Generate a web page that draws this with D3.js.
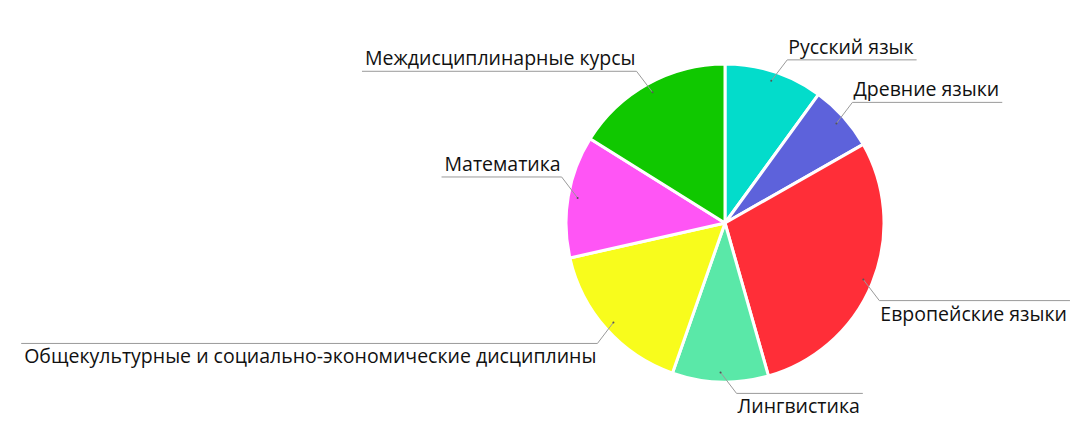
<!DOCTYPE html>
<html><head><meta charset="utf-8">
<script src="https://cdn.jsdelivr.net/npm/d3@7"></script>
<style>html,body{margin:0;padding:0;background:#fff;}svg{display:block;}</style>
</head><body>
<svg id="chart" width="1080" height="446"></svg>
<script>
const categories = ["Русский язык","Древние языки","Европейские языки","Лингвистика","Общекультурные и социально-экономические дисциплины","Математика","Междисциплинарные курсы"];
const values = [10.0, 6.75, 28.8, 9.75, 16.1, 12.4, 16.1];
const colors = ["#03DCCB","#5D62DB","#FF2E38","#5AE8A8","#F8FC1C","#FF55F5","#10C800"];
// label placement: side (1 right / -1 left), text above (true) or below the line
const labelSide = [1, 1, 1, 1, -1, -1, -1];
const labelAbove = [true, true, false, false, false, true, true];

const svg = d3.select("#chart");
const cx = 725, cy = 223, R = 159;
const g = svg.append("g").attr("transform", `translate(${cx},${cy})`);
const pie = d3.pie().sort(null).value(d => d)(values);
const arc = d3.arc().innerRadius(0).outerRadius(R);
g.selectAll("path.slice").data(pie).join("path")
  .attr("class","slice")
  .attr("d", arc)
  .attr("fill", (d,i) => colors[i])
  .attr("stroke", "#fff").attr("stroke-width", 3).attr("stroke-linejoin","round");

const fontSize = 19.5;
pie.forEach((d,i) => {
  const a = (d.startAngle + d.endAngle)/2;
  const r0 = R*0.94;
  const px = Math.sin(a)*r0, py = -Math.cos(a)*r0;
  const side = labelSide[i];
  const vert = labelAbove[i] ? -1 : 1;
  const ex = px + side*16, ey = py + vert*21;
  const t = g.append("text")
    .attr("font-family","'Open Sans', sans-serif")
    .attr("font-size", fontSize)
    .attr("fill","#111")
    .attr("text-anchor", side > 0 ? "start" : "end")
    .attr("x", ex + side*1)
    .attr("y", labelAbove[i] ? ey - 6 : ey + 20)
    .text(categories[i]);
  const w = t.node().getComputedTextLength();
  const x2 = ex + side*(w + 4);
  g.append("path")
    .attr("d", `M${px},${py}L${ex},${ey}L${x2},${ey}`)
    .attr("fill","none").attr("stroke","#9a9a9a").attr("stroke-width",1);
  g.append("circle").attr("cx",px).attr("cy",py).attr("r",1).attr("fill","#555");
});
</script>
</body></html>
